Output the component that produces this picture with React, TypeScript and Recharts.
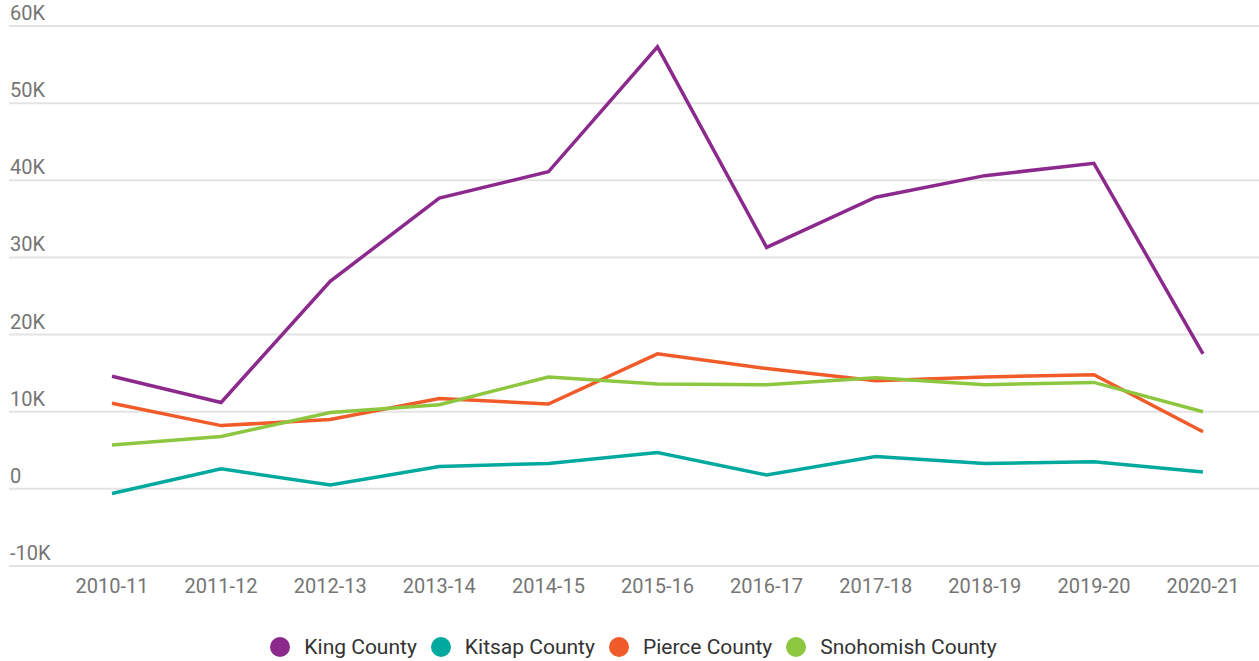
import React from "react";
import { CartesianGrid, Legend, Line, LineChart, XAxis, YAxis } from "recharts";

const years = [
  "2010-11",
  "2011-12",
  "2012-13",
  "2013-14",
  "2014-15",
  "2015-16",
  "2016-17",
  "2017-18",
  "2018-19",
  "2019-20",
  "2020-21",
];

const king = [14600, 11200, 26900, 37700, 41100, 57300, 31300, 37800, 40600, 42200, 17500];
const kitsap = [-600, 2600, 500, 2900, 3300, 4700, 1800, 4200, 3300, 3500, 2200];
const pierce = [11100, 8200, 9000, 11700, 11000, 17500, 15600, 14000, 14500, 14800, 7400];
const snohomish = [5700, 6800, 9900, 10900, 14500, 13600, 13500, 14400, 13500, 13800, 10000];

const yTicks = [-10000, 0, 10000, 20000, 30000, 40000, 50000, 60000];

const series = [
  { key: "King County", color: "#8B2A8C" },
  { key: "Kitsap County", color: "#00A99D" },
  { key: "Pierce County", color: "#F15A29" },
  { key: "Snohomish County", color: "#8DC63F" },
];

const data = years.map((year, i) => ({
  year,
  "King County": king[i],
  "Kitsap County": kitsap[i],
  "Pierce County": pierce[i],
  "Snohomish County": snohomish[i],
}));

const fmt = (v: number) => (v === 0 ? "0" : `${v / 1000}K`);

const renderYTick = (props: any) => (
  <text
    key={props.payload.value}
    x={10}
    y={props.y - 6}
    fill="#757575"
    fontSize={20}
    fontFamily="Roboto"
  >
    {fmt(props.payload.value)}
  </text>
);

const XTick = ({ x, y, payload }: any) => (
  <text
    x={x}
    y={y + 27}
    textAnchor="middle"
    fill="#757575"
    fontSize={20}
    fontFamily="Roboto"
  >
    {payload.value}
  </text>
);

const LegendContent = () => (
  <div
    style={{
      height: 45,
      boxSizing: "border-box",
      paddingTop: 20,
      paddingLeft: 8,
      display: "flex",
      justifyContent: "center",
      alignItems: "flex-start",
      fontFamily: "Roboto",
      fontSize: 21,
      color: "#333",
    }}
  >
    {series.map((s) => (
      <div
        key={s.key}
        style={{ display: "flex", alignItems: "center", height: 22, margin: "0 7px" }}
      >
        <span
          style={{
            width: 20,
            height: 20,
            borderRadius: 10,
            background: s.color,
            marginRight: 14,
            display: "inline-block",
          }}
        />
        <span>{s.key}</span>
      </div>
    ))}
  </div>
);

export default function App() {
  return (
    <div>
      <style>{`body{margin:0}`}</style>
      <LineChart
        width={1259}
        height={661}
        data={data}
        margin={{ top: 26, right: 0, left: 0, bottom: 0 }}
      >
        <CartesianGrid vertical={false} stroke="#e3e3e3" strokeWidth={2} />
        <XAxis
          dataKey="year"
          height={50}
          axisLine={false}
          tickLine={false}
          tickSize={0}
          tickMargin={0}
          padding={{ left: 103, right: 56 }}
          tick={<XTick />}
          interval={0}
        />
        <YAxis
          width={9}
          domain={[-10000, 60000]}
          ticks={yTicks}
          axisLine={false}
          tickLine={false}
          tick={renderYTick}
          interval={0}
        />
        <Legend verticalAlign="bottom" content={<LegendContent />} />
        {series.map((s) => (
          <Line
            key={s.key}
            type="linear"
            dataKey={s.key}
            stroke={s.color}
            strokeWidth={3.5}
            dot={false}
            activeDot={false}
            isAnimationActive={false}
          />
        ))}
      </LineChart>
    </div>
  );
}
